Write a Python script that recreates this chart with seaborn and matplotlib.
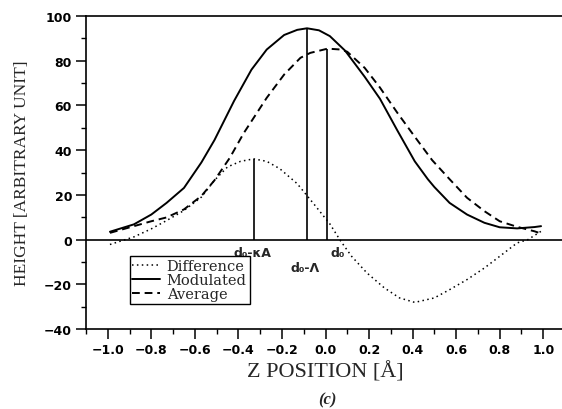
import matplotlib
matplotlib.use("Agg")
import matplotlib.pyplot as plt
import numpy as np
import pandas as pd
import seaborn as sns
from matplotlib.ticker import MultipleLocator

# ---- data ----
mod_z = [-0.99, -0.88, -0.80, -0.73, -0.65, -0.57, -0.51, -0.42, -0.34, -0.27,
         -0.19, -0.13, -0.085, -0.03, 0.02, 0.09, 0.18, 0.25, 0.33, 0.41,
         0.47, 0.50, 0.57, 0.65, 0.73, 0.80, 0.88, 0.96, 0.99]
mod_h = [3.5, 6.8, 11.2, 16.4, 23.1, 34.5, 44.5, 62.0, 76.0, 85.0,
         91.5, 93.8, 94.5, 93.6, 91.0, 84.5, 72.8, 63.0, 48.8, 35.0,
         27.0, 23.5, 16.4, 11.2, 7.5, 5.5, 5.0, 5.6, 6.0]

avg_z = [-0.99, -0.88, -0.80, -0.73, -0.65, -0.57, -0.51, -0.44, -0.375, -0.27,
         -0.19, -0.115, -0.07, 0.01, 0.07, 0.10, 0.18, 0.25, 0.33, 0.41,
         0.49, 0.57, 0.65, 0.73, 0.80, 0.88, 0.96, 0.99]
avg_h = [3.0, 6.0, 8.2, 9.9, 13.5, 19.5, 26.5, 36.5, 47.7, 63.4,
         73.8, 81.3, 83.5, 85.4, 85.0, 84.0, 76.8, 68.0, 56.7, 46.0,
         35.5, 27.0, 18.7, 12.7, 8.2, 5.7, 3.7, 2.7]

diff_z = [-0.99, -0.88, -0.80, -0.73, -0.65, -0.57, -0.51, -0.45, -0.39, -0.33,
          -0.27, -0.21, -0.13, -0.05, 0.02, 0.07, 0.12, 0.19, 0.27, 0.34,
          0.41, 0.50, 0.57, 0.65, 0.73, 0.80, 0.88, 0.93, 0.99]
diff_h = [-2.2, 1.2, 4.8, 8.5, 13.0, 19.0, 26.5, 32.5, 35.0, 36.1,
          35.0, 31.7, 25.0, 15.5, 7.0, -0.7, -7.5, -14.9, -21.6, -26.1,
          -28.1, -26.1, -22.4, -17.9, -12.7, -7.5, -1.5, 0.0, 3.7]

marker_z = [-0.33, -0.085, 0.005]
marker_h = [36.1, 94.5, 85.4]
marker_labels = ["d\u2080-\u03baA", "d\u2080-\u039b", "d\u2080"]

xticks = [-1.0, -0.8, -0.6, -0.4, -0.2, 0.0, 0.2, 0.4, 0.6, 0.8, 1.0]
yticks = [-40, -20, 0, 20, 40, 60, 80, 100]

# ---- styling ----
sns.set_style("ticks")
plt.rcParams['font.family'] = ['DejaVu Sans']

fig = plt.figure(figsize=(5.62, 4.10), dpi=100)
ax = fig.add_axes([86 / 562, 1 - 330 / 410, 479 / 562, 313 / 410])

df_diff = pd.DataFrame({"z": diff_z, "h": diff_h})
df_mod = pd.DataFrame({"z": mod_z, "h": mod_h})
df_avg = pd.DataFrame({"z": avg_z, "h": avg_h})

sns.lineplot(data=df_diff, x="z", y="h", ax=ax, color="black", lw=1.1,
             linestyle=(0, (1, 2.2)), label="Difference")
sns.lineplot(data=df_mod, x="z", y="h", ax=ax, color="black", lw=1.4,
             label="Modulated")
sns.lineplot(data=df_avg, x="z", y="h", ax=ax, color="black", lw=1.4,
             linestyle=(0, (4, 2.5)), label="Average")

ax.axhline(0, color="black", lw=1.2, zorder=1)
ax.vlines(marker_z, 0, marker_h, color="black", lw=1.2)

label_pos = [(-0.337, -5.8), (-0.092, -12.5), (0.054, -5.8)]
for lab, (lx, ly) in zip(marker_labels, label_pos):
    ax.text(lx, ly, lab, ha="center", va="center", fontsize=9,
            fontweight="bold")

ax.set_xlim(-1.1, 1.1)
ax.set_ylim(-40, 100)
ax.set_xticks(xticks)
ax.set_yticks(yticks)
ax.set_xticklabels([f"{v:.1f}".replace("-", "\u2212") for v in xticks])
ax.set_yticklabels([str(v).replace("-", "\u2212") for v in yticks])
ax.xaxis.set_minor_locator(MultipleLocator(0.1))
ax.yaxis.set_minor_locator(MultipleLocator(10))
ax.tick_params(which="major", direction="out", length=7, width=1.1,
               labelsize=9, pad=3, color="black", labelcolor="black")
ax.tick_params(which="minor", direction="out", length=3.5, width=1.0,
               color="black")
for t in ax.get_xticklabels() + ax.get_yticklabels():
    t.set_fontweight("bold")

for s in ["left", "top", "bottom"]:
    ax.spines[s].set_color("black")
    ax.spines[s].set_linewidth(1.2)
ax.spines["right"].set_visible(False)

ax.set_xlabel("Z POSITION [\u00c5]", fontsize=16, family="Liberation Serif",
              labelpad=4)
ax.set_ylabel("HEIGHT [ARBITRARY UNIT]", fontsize=12.5,
              family="Liberation Serif", labelpad=10)

fig.text(327 / 562, 1 - 400 / 410, "(c)", ha="center", va="center",
         fontsize=12, family="Liberation Serif", fontweight="bold",
         style="italic")

leg = ax.legend(loc="upper left", bbox_to_anchor=(-0.9, -7.3),
                bbox_transform=ax.transData, frameon=True, fancybox=False,
                edgecolor="black", framealpha=1, handlelength=1.9,
                handletextpad=0.45, borderpad=0.2, labelspacing=0.0,
                borderaxespad=0,
                prop={"family": "DejaVu Serif", "size": 10.5})
leg.get_frame().set_linewidth(1.0)

fig.savefig("out.png", dpi=100)
